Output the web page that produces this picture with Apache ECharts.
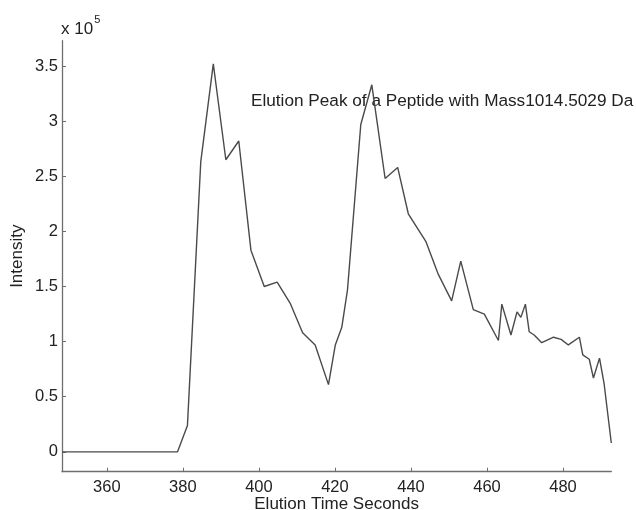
<!DOCTYPE html>
<html>
<head>
<meta charset="utf-8">
<script src="https://cdn.jsdelivr.net/npm/echarts@6/dist/echarts.min.js"></script>
<style>html,body{margin:0;padding:0;background:#fff}#c{width:636px;height:510px}</style>
</head>
<body>
<div id="c"></div>
<script>
// Elution time (s)
var timeSeconds = [348.2, 378.6, 381.2, 384.7, 388.0, 391.3, 394.7, 397.9, 401.4, 404.8, 408.2, 411.5, 414.8, 418.3, 420.1, 421.8, 423.3, 426.8, 429.7, 433.2, 436.5, 439.3, 443.9, 447.2, 450.7, 453.1, 456.4, 459.3, 463.0, 463.9, 466.3, 467.9, 468.9, 470.1, 471.1, 472.4, 474.4, 477.5, 479.5, 481.4, 484.3, 485.2, 486.9, 488.0, 489.6, 490.8, 492.7];
// Intensity in units of 1e5
var intensityE5 = [0, 0, 0.24, 2.63, 3.52, 2.65, 2.82, 1.83, 1.50, 1.54, 1.35, 1.08, 0.97, 0.61, 0.97, 1.13, 1.47, 2.97, 3.33, 2.48, 2.58, 2.16, 1.91, 1.61, 1.37, 1.73, 1.29, 1.25, 1.01, 1.34, 1.06, 1.27, 1.22, 1.34, 1.09, 1.06, 0.99, 1.04, 1.02, 0.97, 1.04, 0.88, 0.84, 0.67, 0.85, 0.62, 0.08];
var xTicks = [360, 380, 400, 420, 440, 460, 480];
var yTicks = [0, 0.5, 1, 1.5, 2, 2.5, 3, 3.5];
var titleText = 'Elution Peak of a Peptide with Mass1014.5029 Da';

var pts = timeSeconds.map(function (t, i) { return [t, intensityE5[i]]; });
var chart = echarts.init(document.getElementById('c'));
var font = 'Liberation Sans, Arial, sans-serif';
var axisColor = '#6e6e6e';
chart.setOption({
  animation: false,
  backgroundColor: '#fff',
  grid: { left: 62, right: 24.7, top: 40.7, bottom: 38.3, containLabel: false, outerBoundsMode: 'none' },
  xAxis: {
    type: 'value', min: 348.2, max: 492.7,
    name: 'Elution Time Seconds', nameLocation: 'middle', nameGap: 24, nameMoveOverlap: false,
    nameTextStyle: { color: '#222', fontSize: 17, fontFamily: font },
    axisLine: { onZero: false, lineStyle: { color: axisColor, width: 1.3 } },
    axisTick: { inside: true, length: 4, customValues: xTicks, lineStyle: { color: axisColor } },
    axisLabel: { customValues: xTicks, color: '#222', fontSize: 16.5, fontFamily: font, margin: 7 },
    splitLine: { show: false }
  },
  yAxis: {
    type: 'value', min: -0.18, max: 3.73,
    name: 'Intensity', nameLocation: 'middle', nameGap: 36, nameMoveOverlap: false,
    nameTextStyle: { color: '#222', fontSize: 17, fontFamily: font },
    axisLine: { show: true, onZero: false, lineStyle: { color: axisColor, width: 1.3 } },
    axisTick: { show: true, inside: true, length: 4, customValues: yTicks, lineStyle: { color: axisColor } },
    axisLabel: { customValues: yTicks, color: '#222', fontSize: 16.5, fontFamily: font, margin: 4 },
    splitLine: { show: false }
  },
  graphic: [
    { type: 'text', left: 251, top: 93, style: { text: titleText, fill: '#222', font: '17.2px ' + font } },
    { type: 'text', left: 61, top: 14, style: {
        text: '{a|x 10}{b|5}', fill: '#222',
        rich: { a: { fontSize: 17, fontFamily: font, fill: '#222', verticalAlign: 'bottom', padding:[7,0,0,0] },
                b: { fontSize: 11, fontFamily: font, fill: '#222', verticalAlign: 'top', padding:[0,0,8,1] } } } }
  ],
  series: [{
    type: 'line', data: pts, symbol: 'none',
    lineStyle: { color: '#4a4a4a', width: 1.4 }
  }]
});
</script>
</body>
</html>
